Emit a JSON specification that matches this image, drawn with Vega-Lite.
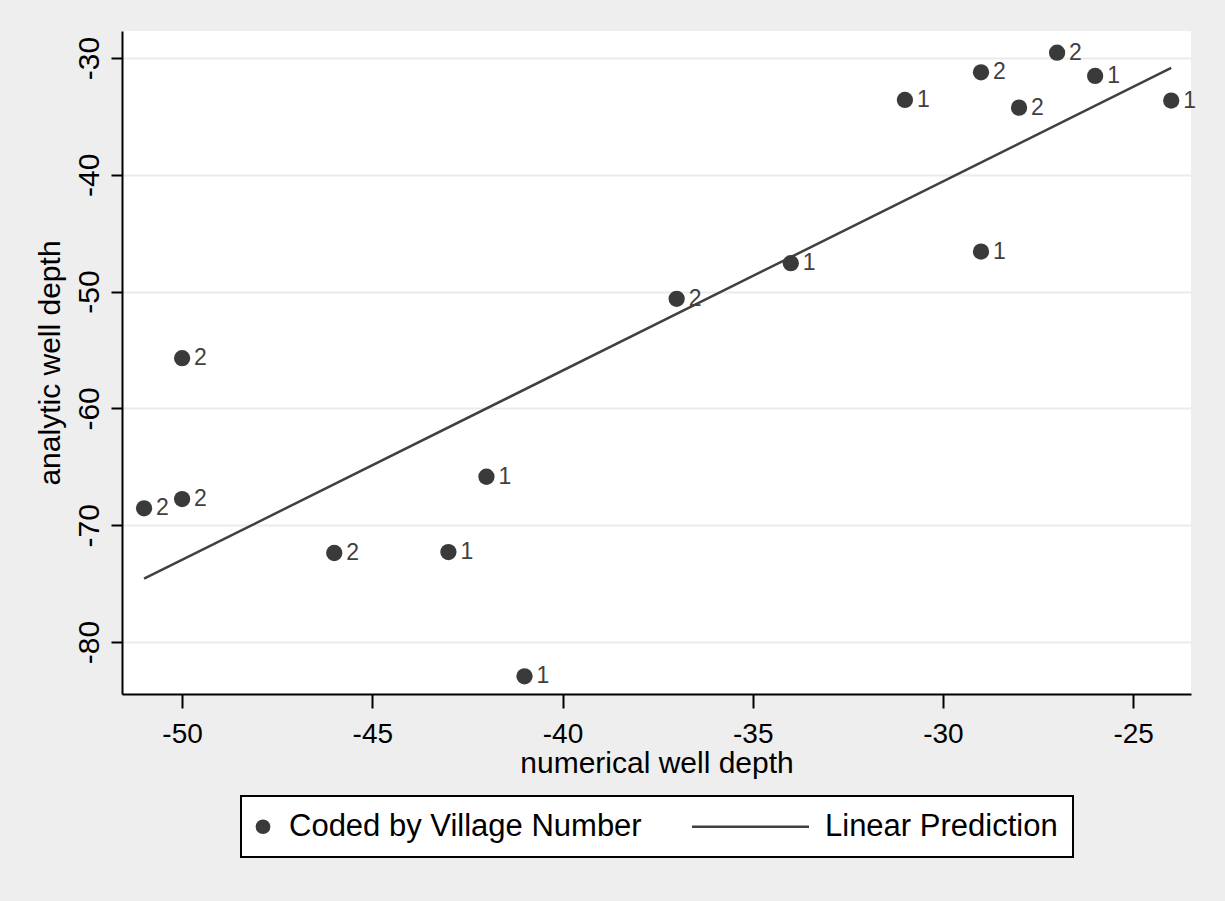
{
  "$schema": "https://vega.github.io/schema/vega-lite/v6.json",
  "width": 1069,
  "height": 663,
  "autosize": {"type": "none"},
  "padding": {"left": 122, "top": 31, "right": 34, "bottom": 207},
  "background": "#eeeeee",
  "config": {
    "view": {"fill": "white", "stroke": null},
    "font": "Liberation Sans"
  },
  "data": {
    "values": [
      {"x": -51, "y": -68.55, "v": 2},
      {"x": -50, "y": -67.76, "v": 2},
      {"x": -50, "y": -55.7, "v": 2},
      {"x": -46, "y": -72.38, "v": 2},
      {"x": -43, "y": -72.3, "v": 1},
      {"x": -42, "y": -65.85, "v": 1},
      {"x": -41, "y": -82.94, "v": 1},
      {"x": -37, "y": -50.62, "v": 2},
      {"x": -34, "y": -47.57, "v": 1},
      {"x": -31, "y": -33.59, "v": 1},
      {"x": -29, "y": -31.23, "v": 2},
      {"x": -29, "y": -46.57, "v": 1},
      {"x": -28, "y": -34.25, "v": 2},
      {"x": -27, "y": -29.55, "v": 2},
      {"x": -26, "y": -31.54, "v": 1},
      {"x": -24, "y": -33.65, "v": 1}
    ]
  },
  "encoding": {
    "x": {
      "field": "x",
      "type": "quantitative",
      "scale": {"domain": [-51.58, -23.48], "nice": false, "zero": false},
      "axis": {
        "values": [-50, -45, -40, -35, -30, -25],
        "title": "numerical well depth",
        "grid": false,
        "domainColor": "black",
        "domainWidth": 2,
        "tickColor": "black",
        "tickWidth": 2,
        "tickSize": 14,
        "labelFontSize": 28,
        "labelColor": "black",
        "labelPadding": 12,
        "labelFlush": false,
        "labelOverlap": false,
        "labelExpr": "replace(datum.label, '−', '-')",
        "titleFontSize": 30,
        "titleFontWeight": "normal",
        "titleColor": "black",
        "titlePadding": 0
      }
    },
    "y": {
      "field": "y",
      "type": "quantitative",
      "scale": {"domain": [-84.45, -27.69], "nice": false, "zero": false},
      "axis": {
        "values": [-80, -70, -60, -50, -40, -30],
        "title": "analytic well depth",
        "grid": true,
        "gridColor": "#ebebeb",
        "gridWidth": 2,
        "domainColor": "black",
        "domainWidth": 2,
        "tickColor": "black",
        "tickWidth": 2,
        "tickSize": 11,
        "labelAngle": 270,
        "labelAlign": "center",
        "labelBaseline": "bottom",
        "labelPadding": 7,
        "labelFontSize": 30,
        "labelColor": "black",
        "labelFlush": false,
        "labelOverlap": false,
        "labelExpr": "replace(datum.label, '−', '-')",
        "titleFontSize": 30,
        "titleFontWeight": "normal",
        "titleColor": "black",
        "titlePadding": 9
      }
    }
  },
  "layer": [
    {
      "transform": [{"regression": "y", "on": "x"}],
      "mark": {"type": "line", "strokeWidth": 2.5},
      "encoding": {
        "color": {
          "datum": "Linear Prediction",
          "scale": {"domain": ["Coded by Village Number", "Linear Prediction"], "range": ["#3a3a3a", "#404040"]},
          "legend": {
            "title": null,
            "orient": "none",
            "legendX": 119,
            "legendY": 765,
            "direction": "horizontal",
            "strokeColor": "black",
            "fillColor": "white",
            "padding": 15,
            "labelFontSize": 31,
            "labelColor": "black",
            "labelFont": "Liberation Sans",
            "labelLimit": 1000,
            "columnPadding": 45,
            "encode": {
              "legend": {"update": {"strokeWidth": {"value": 2}}},
              "symbols": {
                "update": {
                  "x": {"signal": "(datum.value === 'Linear Prediction' ? 60.5 : 7)"},
                  "shape": {"signal": "(datum.value === 'Linear Prediction' ? 'stroke' : 'circle')"},
                  "size": {"signal": "(datum.value === 'Linear Prediction' ? 13689 : 150)"},
                  "fill": {"signal": "(datum.value === 'Linear Prediction' ? 'transparent' : '#3a3a3a')"},
                  "stroke": {"value": "#404040"},
                  "strokeWidth": {"value": 2.5},
                  "opacity": {"value": 1}
                }
              },
              "labels": {
                "update": {
                  "x": {"signal": "(datum.value === 'Linear Prediction' ? 135 : 33)"}
                }
              }
            }
          }
        }
      }
    },
    {
      "mark": {"type": "circle", "size": 265, "opacity": 1},
      "encoding": {
        "color": {"datum": "Coded by Village Number"}
      }
    },
    {
      "mark": {"type": "text", "align": "left", "baseline": "middle", "dx": 12, "fontSize": 23, "color": "#404040"},
      "encoding": {
        "text": {"field": "v", "type": "nominal"}
      }
    }
  ]
}
